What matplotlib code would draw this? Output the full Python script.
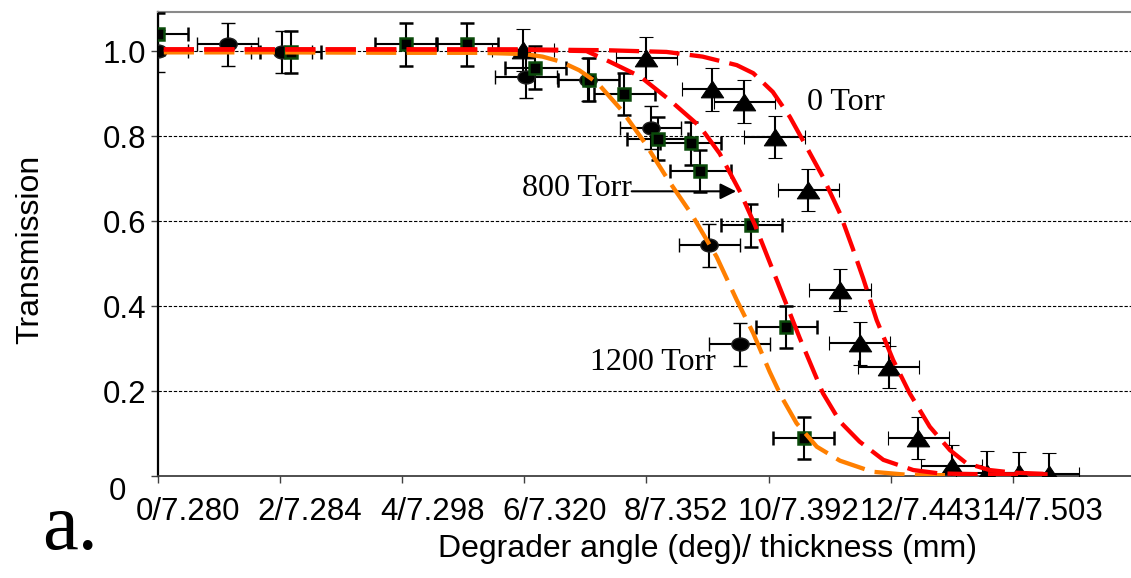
import matplotlib
matplotlib.use("Agg")
import matplotlib.pyplot as plt
import matplotlib.transforms as mtransforms
from matplotlib.path import Path

# ---------------- data ----------------
xtick_values = [0, 2, 4, 6, 8, 10, 12, 14]
xtick_labels = ["0/7.280", "2/7.284", "4/7.298", "6/7.320",
                "8/7.352", "10/7.392", "12/7.443", "14/7.503"]
ytick_values = [0, 0.2, 0.4, 0.6, 0.8, 1.0]
ytick_labels = ["0", "0.2", "0.4", "0.6", "0.8", "1.0"]

# 1200 Torr (circles)
x_1200 = [0.0, 1.15, 2.03, 6.03, 7.05, 8.07, 9.03, 9.53]
y_1200 = [1.0, 1.016, 0.998, 0.94, 0.933, 0.82, 0.543, 0.31]
xerr_1200 = [0.5, 0.5, 0.5, 0.5, 0.5, 0.5, 0.5, 0.5]
yerr_1200 = [0.05, 0.05, 0.05, 0.05, 0.05, 0.05, 0.05, 0.05]

# 800 Torr (squares)
x_800 = [0.0, 2.18, 4.06, 5.07, 6.18, 7.06, 7.64, 8.19, 8.73, 8.88, 9.72, 10.29, 10.58]
y_800 = [1.04, 0.998, 1.016, 1.016, 0.961, 0.933, 0.899, 0.794, 0.783, 0.718, 0.59, 0.351, 0.09]
xerr_800 = [0.5] * 13
yerr_800 = [0.05] * 13

# 0 Torr (triangles)
x_0 = [5.98, 8.0, 9.08, 9.6, 10.1, 10.65, 11.17, 11.49, 11.97, 12.45, 13.0, 13.57, 14.1, 14.59]
y_0 = [1.002, 0.983, 0.91, 0.881, 0.798, 0.673, 0.438, 0.312, 0.257, 0.09, 0.024, 0.008, 0.006, 0.005]
xerr_0 = [0.5] * 14
yerr_0 = [0.05] * 14

# fitted curves
fit_1200_x = [0.1, 2.0, 4.0, 5.3, 6.0, 6.3, 6.6, 6.9, 7.2, 7.6, 7.98, 8.36, 8.75, 9.15,
              9.48, 9.75, 10.02, 10.21, 10.46, 10.79, 11.17, 11.7, 12.26, 12.8, 13.4]
fit_1200_y = [0.997, 0.997, 0.996, 0.996, 0.993, 0.987, 0.975, 0.955, 0.925, 0.86, 0.783,
              0.696, 0.614, 0.516, 0.414, 0.336, 0.245, 0.187, 0.124, 0.069, 0.036, 0.01,
              0.003, 0.002, 0.002]

fit_800_x = [0.1, 2.0, 4.0, 6.0, 7.02, 7.4, 7.9, 8.38, 8.88, 9.2, 9.53, 9.78, 10.0, 10.29,
             10.51, 10.89, 11.17, 11.49, 11.88, 12.37, 12.8, 13.5, 14.57]
fit_800_y = [1.004, 1.004, 1.004, 1.003, 1.0, 0.975, 0.94, 0.885, 0.822, 0.759, 0.67, 0.59,
             0.51, 0.405, 0.325, 0.195, 0.128, 0.081, 0.038, 0.014, 0.006, 0.004, 0.004]

fit_0_x = [0.1, 2.0, 4.0, 6.0, 7.35, 8.33, 8.92, 9.48, 9.75, 10.07, 10.35, 10.62, 10.89,
           11.17, 11.38, 11.55, 11.77, 12.04, 12.31, 12.64, 12.97, 13.24, 13.62, 14.0, 14.5]
fit_0_y = [1.004, 1.004, 1.004, 1.004, 1.002, 0.998, 0.987, 0.967, 0.948, 0.904, 0.845,
           0.775, 0.704, 0.618, 0.535, 0.465, 0.367, 0.273, 0.195, 0.116, 0.061, 0.03,
           0.014, 0.008, 0.005]

# ---------------- figure ----------------
W, H = 1131, 578
fig = plt.figure(figsize=(W / 100, H / 100), dpi=100)
ax_left, ax_right = 157.7, 1135.0
ax_bottom, ax_top = 476.0, 12.0
ax = fig.add_axes([ax_left / W, 1 - ax_bottom / H,
                   (ax_right - ax_left) / W, (ax_bottom - ax_top) / H])
ax.set_xlim(0, 16)
ax.set_ylim(0, 1.092)

# markers
ellipse = Path.unit_circle().transformed(mtransforms.Affine2D().scale(1.35, 1.0))
tri = Path([(0, 0.75), (-1, -0.75), (1, -0.75), (0, 0.75)],
           [Path.MOVETO, Path.LINETO, Path.LINETO, Path.CLOSEPOLY])

ebkw = dict(ecolor="black", elinewidth=1.5, capsize=4.8, capthick=1.5, linestyle="none")

ax.errorbar(x_1200, y_1200, xerr=xerr_1200, yerr=yerr_1200, marker=ellipse,
            markersize=12.5, markerfacecolor="black", markeredgecolor="#202020",
            markeredgewidth=1.0, zorder=3, **ebkw)
ax.errorbar(x_800, y_800, xerr=xerr_800, yerr=yerr_800, marker="s",
            markersize=8.5, markerfacecolor="black", markeredgecolor="#0a4a0a",
            markeredgewidth=1.8, zorder=3, **ebkw)
ax.errorbar(x_0, y_0, xerr=xerr_0, yerr=yerr_0, marker=tri,
            markersize=16, markerfacecolor="black", markeredgecolor="black",
            markeredgewidth=0.8, zorder=3, **ebkw)

# fitted curves
dash = (0, (7.0, 2.4))
ax.plot(fit_1200_x, fit_1200_y, color="#FF7F00", lw=3.1, linestyle=dash, zorder=4)
ax.plot(fit_800_x, fit_800_y, color="#FF0000", lw=3.1, linestyle=dash, zorder=5)
ax.plot(fit_0_x, fit_0_y, color="#FF0000", lw=3.1, linestyle=dash, zorder=5)

# grid
for yv in ytick_values[1:]:
    ax.axhline(yv, color="black", lw=0.8, linestyle=(0, (3, 1.6)), zorder=1)

# spines
ax.spines["left"].set_color("black")
ax.spines["left"].set_linewidth(1.6)
ax.spines["bottom"].set_color("#404040")
ax.spines["bottom"].set_linewidth(1.3)
ax.spines["top"].set_color("#8a8a8a")
ax.spines["top"].set_linewidth(1.5)
ax.spines["right"].set_visible(False)

# ticks
tick_font = dict(family="Liberation Sans", size=22.5)
ax.set_yticks(ytick_values)
ax.set_yticklabels(ytick_labels, fontdict=tick_font)
ax.set_xticks(xtick_values)
ax.set_xticklabels(xtick_labels, fontdict=tick_font)
ax.tick_params(axis="both", direction="out", length=5, width=1.0, color="#404040")
ax.tick_params(axis="y", pad=3)
ax.tick_params(axis="x", pad=10)
offset = mtransforms.ScaledTranslation(30 / 100, 0, fig.dpi_scale_trans)
for lab in ax.get_xticklabels():
    lab.set_transform(lab.get_transform() + offset)
zero_shift = mtransforms.ScaledTranslation(-20 / 100, -12 / 100, fig.dpi_scale_trans)
ylabs = ax.get_yticklabels()
ylabs[0].set_transform(ylabs[0].get_transform() + zero_shift)

# axis titles
fig.text(707 / W, 1 - 549 / H, "Degrader angle (deg)/ thickness (mm)",
         ha="center", va="center", family="Liberation Sans", size=23)
fig.text(30 / W, 1 - 249 / H, "Transmission", rotation=90,
         ha="center", va="center", family="Liberation Sans", size=23)
fig.text(70 / W, 1 - 530 / H, "a.", ha="center", va="center",
         family="Liberation Serif", size=58)

# annotations
serif = dict(family="Liberation Serif", size=23)
ax.text(10.63, 0.878, "0 Torr", ha="left", va="center", **serif)
ax.text(7.76, 0.676, "800 Torr", ha="right", va="center", **serif)
ax.annotate("", xy=(9.47, 0.67), xytext=(7.76, 0.67),
            arrowprops=dict(arrowstyle="-|>", color="black", lw=1.5,
                            mutation_scale=24, shrinkA=0, shrinkB=0))
ax.text(9.14, 0.268, "1200 Torr", ha="right", va="center", **serif)

fig.savefig("out.png", dpi=100)
